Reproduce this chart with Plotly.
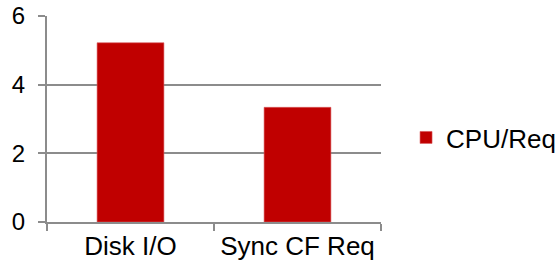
import plotly.graph_objects as go

categories = ["Disk I/O", "Sync CF Req"]
cpu_per_req = [5.22, 3.34]
series_name = "CPU/Req"
y_ticks = [0, 2, 4, 6]

FONT = "Arial, Liberation Sans, sans-serif"
GRID = "#8c8c8c"

fig = go.Figure()
fig.add_trace(go.Bar(
    x=categories, y=cpu_per_req, name=series_name,
    marker=dict(color="#C00000", line=dict(color="#d9595c", width=0.6)),
    showlegend=True,
))

W, H = 557, 268
L, R, T, B = 47, 176, 16, 46
fig.update_layout(
    width=W, height=H,
    margin=dict(l=L, r=R, t=T, b=B, autoexpand=False),
    paper_bgcolor="white", plot_bgcolor="white",
    bargap=0.6,
    font=dict(family=FONT, size=24, color="#000000"),
    showlegend=True,
    legend=dict(x=1.075, y=0.41, xanchor="left", yanchor="middle",
                font=dict(family=FONT, size=26, color="#000000"),
                bgcolor="rgba(0,0,0,0)"),
    xaxis=dict(
        type="category", automargin=False, showgrid=False, showline=True, linecolor=GRID, linewidth=2,
        ticks="outside", tickson="boundaries", ticklen=7, tickcolor=GRID, tickwidth=2,
        tickfont=dict(family=FONT, size=26, color="#000000"),
        ticklabeloverflow="allow",
    ),
    yaxis=dict(
        range=[0, 6], tickvals=y_ticks, ticktext=[str(v) for v in y_ticks],
        automargin=False,
        showgrid=True, gridcolor=GRID, gridwidth=1.5,
        showline=True, linecolor=GRID, linewidth=2,
        ticks="outside", ticklen=7, tickcolor=GRID, tickwidth=1.5,
        ticklabelstandoff=8, ticklabeloverflow="allow",
        tickfont=dict(family=FONT, size=24, color="#000000"),
        zeroline=False,
    ),
)

fig.write_html("out.html", config={"displayModeBar": False},
               post_script="document.body.style.margin='0';document.body.style.overflow='hidden';")
